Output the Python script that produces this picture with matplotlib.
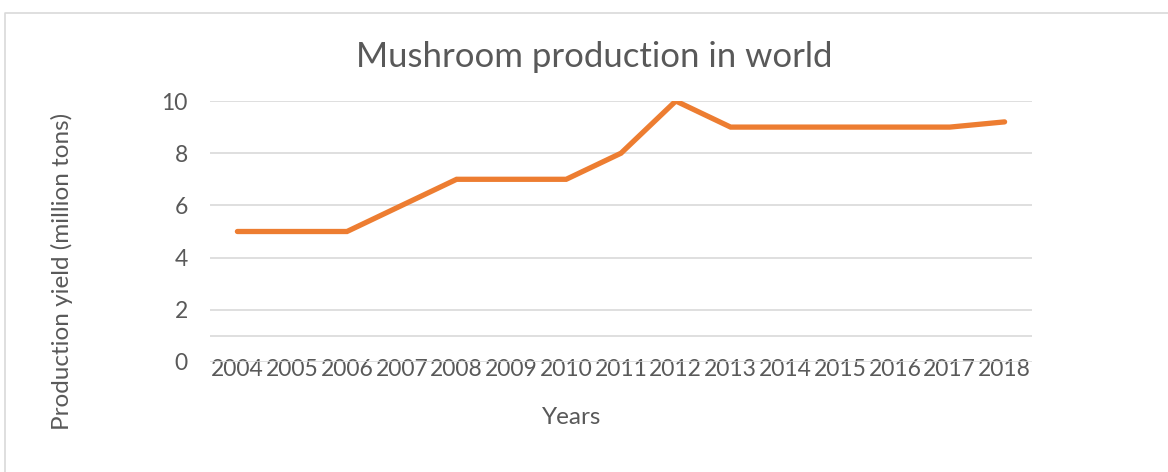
import matplotlib.pyplot as plt
from matplotlib.lines import Line2D

years = ['2004', '2005', '2006', '2007', '2008', '2009', '2010', '2011',
         '2012', '2013', '2014', '2015', '2016', '2017', '2018']
production = [5, 5, 5, 6, 7, 7, 7, 8, 10, 9, 9, 9, 9, 9, 9.2]
y_ticks = [0, 2, 4, 6, 8, 10]
extra_grid = [1]

text_color = '#595959'
grid_color = '#D9D9D9'
line_color = '#ED7D31'

plt.rcParams['font.family'] = ['Lato', 'DejaVu Sans']

fig = plt.figure(figsize=(11.68, 4.72), dpi=100)
ax = fig.add_axes([210 / 1168, 110 / 472, 822 / 1168, 261 / 472])

x = list(range(len(years)))
ax.plot(x, production, color=line_color, lw=3.8, solid_capstyle='round',
        solid_joinstyle='miter', zorder=3)

ax.set_xlim(-0.5, len(years) - 0.5)
ax.set_ylim(0, 10)
ax.set_xticks(x)
ax.set_xticklabels(years)
ax.set_yticks(y_ticks)
ax.grid(axis='y', color=grid_color, lw=1.2)
for v in extra_grid:
    ax.axhline(v, color=grid_color, lw=1.2, zorder=0)
ax.set_axisbelow(True)
for s in ax.spines.values():
    s.set_visible(False)
ax.tick_params(axis='both', length=0, labelsize=16.5, labelcolor=text_color)
ax.tick_params(axis='y', pad=16)
ax.tick_params(axis='x', pad=-2)

fig.text(594 / 1168, 1 - 57 / 472, 'Mushroom production in world', ha='center',
         va='center', fontsize=25, color=text_color)
fig.text(572 / 1168, 1 - 418 / 472, 'Years', ha='center', va='center',
         fontsize=17.5, color=text_color)
fig.text(62 / 1168, 1 - 271 / 472, 'Production yield (million tons)',
         ha='center', va='center', rotation=90, fontsize=17.5, color=text_color)

# chart frame (top and left edges visible)
fig.add_artist(Line2D([4.5 / 1168, 4.5 / 1168, 1], [0, 1 - 12.5 / 472, 1 - 12.5 / 472],
                      color='#D9D9D9', lw=1.2))

fig.savefig('out.png', dpi=100)
